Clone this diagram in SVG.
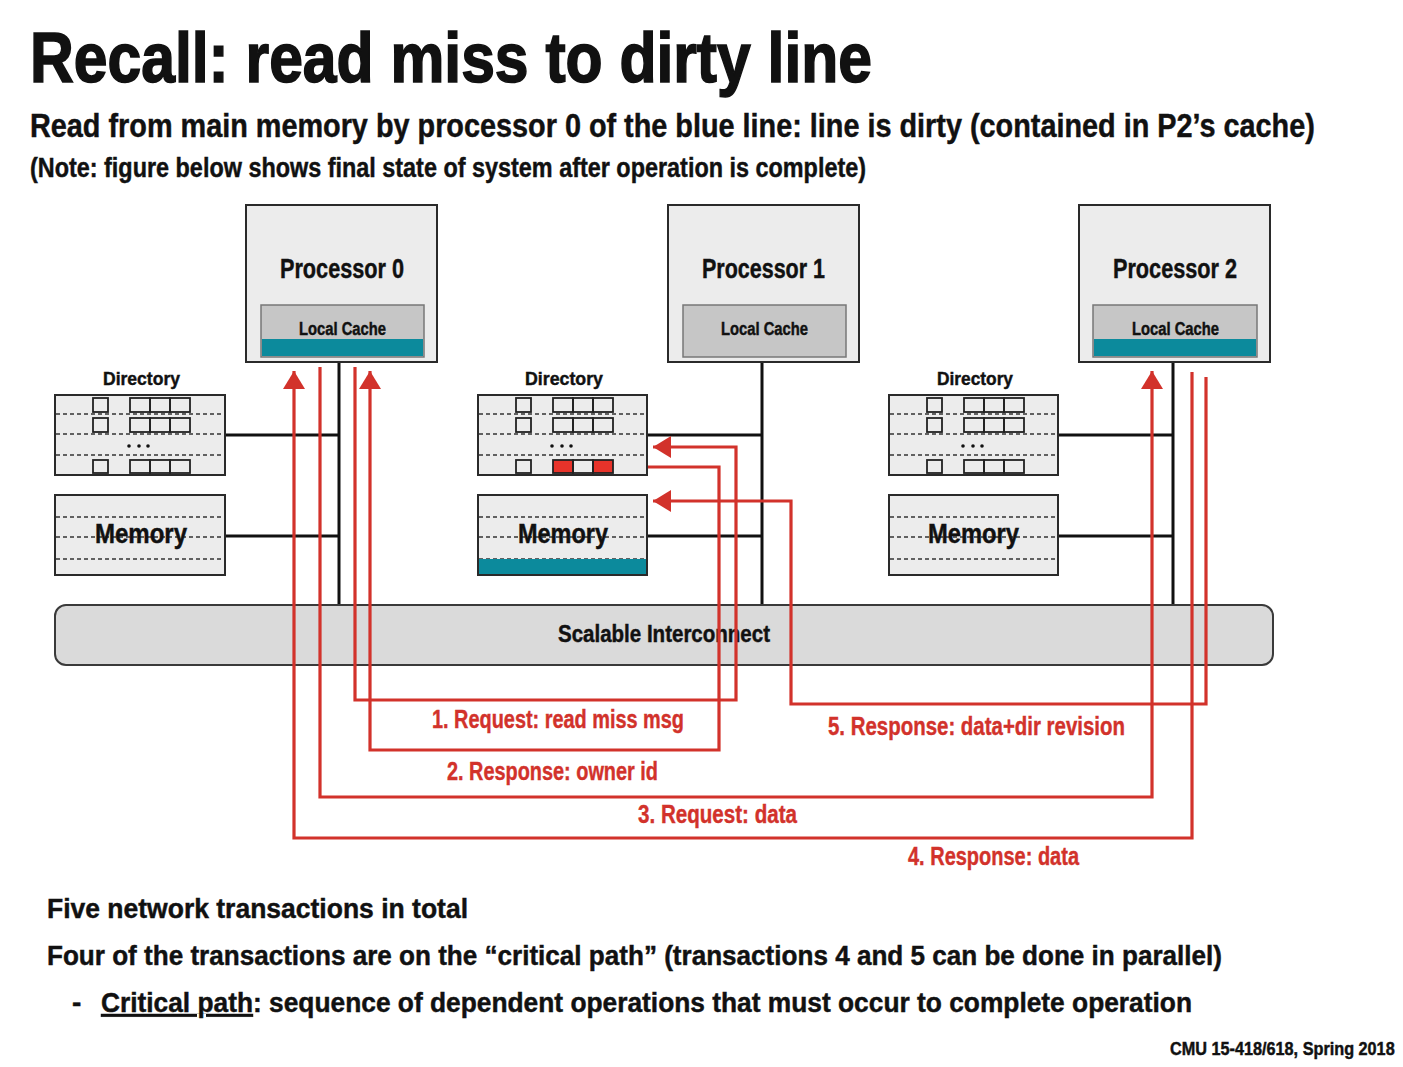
<svg xmlns="http://www.w3.org/2000/svg" width="1403" height="1067" viewBox="0 0 1403 1067">
<style>
text{font-family:"Liberation Sans",Arial,sans-serif;font-weight:bold;fill:#111;stroke:#111;stroke-width:0.45}
.t{stroke-width:1.6}
.box{fill:#ececec;stroke:#2a2a2a;stroke-width:2}
.cache{fill:#c6c6c6;stroke:#777;stroke-width:1.5}
.teal{fill:#0c8a9c}
.dash{stroke:#333;stroke-width:1.6;stroke-dasharray:4 3;fill:none}
.cell{fill:none;stroke:#222;stroke-width:1.8}
.bus{stroke:#111;stroke-width:3;fill:none}
.red{stroke:#d2322b;stroke-width:3.2;fill:none}
text.rt{fill:#d2322b;stroke:#d2322b;stroke-width:0.4}
</style>
<defs>
<marker id="ah" viewBox="0 0 18 22" markerWidth="18" markerHeight="22" refX="18" refY="11" orient="auto" markerUnits="userSpaceOnUse">
<path d="M0,0 L18,11 L0,22 z" fill="#d2322b"/>
</marker>
<g id="dirCells">
<rect class="cell" x="0" y="3" width="15" height="14"/>
<rect class="cell" x="0" y="23" width="15" height="14"/>
<rect class="cell" x="0" y="65" width="15" height="13"/>
<rect class="cell" x="37" y="3" width="20" height="14"/><rect class="cell" x="57" y="3" width="20" height="14"/><rect class="cell" x="77" y="3" width="20" height="14"/>
<rect class="cell" x="37" y="23" width="20" height="14"/><rect class="cell" x="57" y="23" width="20" height="14"/><rect class="cell" x="77" y="23" width="20" height="14"/>
<circle cx="36" cy="51" r="1.8" fill="#111"/><circle cx="46" cy="51" r="1.8" fill="#111"/><circle cx="55" cy="51" r="1.8" fill="#111"/>
</g>
</defs>
<rect width="1403" height="1067" fill="#fff"/>

<text class="t" x="30" y="82" font-size="70" textLength="842" lengthAdjust="spacingAndGlyphs">Recall: read miss to dirty line</text>
<text transform="translate(30,137) scale(0.8,1)" x="0" y="0" font-size="33" textLength="1606" lengthAdjust="spacingAndGlyphs">Read from main memory by processor 0 of the blue line: line is dirty (contained in P2’s cache)</text>
<text x="30" y="177" font-size="27" textLength="836" lengthAdjust="spacingAndGlyphs">(Note: figure below shows final state of system after operation is complete)</text>

<g id="bus-lines">
<path class="bus" d="M339,363 V605 M225,435 H339 M225,536 H339"/>
<path class="bus" d="M762,363 V605 M647,435 H762 M647,536 H762"/>
<path class="bus" d="M1173,363 V605 M1058,435 H1173 M1058,536 H1173"/>
</g>

<g id="processor0">
<rect class="box" x="246" y="205" width="191" height="157"/>
<text x="280" y="278" font-size="28" textLength="124" lengthAdjust="spacingAndGlyphs">Processor 0</text>
<rect class="cache" x="261" y="305" width="163" height="52"/>
<rect class="teal" x="262" y="339" width="161" height="17"/>
<text x="299" y="335" font-size="18" textLength="87" lengthAdjust="spacingAndGlyphs">Local Cache</text>
</g>
<g id="processor1">
<rect class="box" x="668" y="205" width="191" height="157"/>
<text x="702" y="278" font-size="28" textLength="123" lengthAdjust="spacingAndGlyphs">Processor 1</text>
<rect class="cache" x="683" y="305" width="163" height="52"/>
<text x="721" y="335" font-size="18" textLength="87" lengthAdjust="spacingAndGlyphs">Local Cache</text>
</g>
<g id="processor2">
<rect class="box" x="1079" y="205" width="191" height="157"/>
<text x="1113" y="278" font-size="28" textLength="124" lengthAdjust="spacingAndGlyphs">Processor 2</text>
<rect class="cache" x="1093" y="305" width="164" height="52"/>
<rect class="teal" x="1094" y="339" width="162" height="17"/>
<text x="1132" y="335" font-size="18" textLength="87" lengthAdjust="spacingAndGlyphs">Local Cache</text>
</g>

<g id="directory0">
<text x="103" y="385" font-size="19" textLength="77" lengthAdjust="spacingAndGlyphs">Directory</text>
<rect class="box" x="55" y="395" width="170" height="80"/>
<path class="dash" d="M56,414 H224 M56,434 H224 M56,455 H224"/>
<use href="#dirCells" x="93" y="395"/>
<rect class="cell" x="130" y="460" width="20" height="13"/><rect class="cell" x="150" y="460" width="20" height="13"/><rect class="cell" x="170" y="460" width="20" height="13"/>
</g>
<g id="directory1">
<text x="525" y="385" font-size="19" textLength="78" lengthAdjust="spacingAndGlyphs">Directory</text>
<rect class="box" x="478" y="395" width="169" height="80"/>
<path class="dash" d="M479,414 H646 M479,434 H646 M479,455 H646"/>
<use href="#dirCells" x="516" y="395"/>
<rect x="553" y="460" width="20" height="13" fill="#e8332a"/><rect x="593" y="460" width="20" height="13" fill="#e8332a"/>
<rect class="cell" x="553" y="460" width="20" height="13"/><rect class="cell" x="573" y="460" width="20" height="13"/><rect class="cell" x="593" y="460" width="20" height="13"/>
</g>
<g id="directory2">
<text x="937" y="385" font-size="19" textLength="76" lengthAdjust="spacingAndGlyphs">Directory</text>
<rect class="box" x="889" y="395" width="169" height="80"/>
<path class="dash" d="M890,414 H1057 M890,434 H1057 M890,455 H1057"/>
<use href="#dirCells" x="927" y="395"/>
<rect class="cell" x="964" y="460" width="20" height="13"/><rect class="cell" x="984" y="460" width="20" height="13"/><rect class="cell" x="1004" y="460" width="20" height="13"/>
</g>

<g id="memory0">
<rect class="box" x="55" y="495" width="170" height="80"/>
<path class="dash" d="M56,517 H224 M56,537 H224 M56,559 H224"/>
<text x="95" y="543" font-size="27" textLength="92" lengthAdjust="spacingAndGlyphs">Memory</text>
</g>
<g id="memory1">
<rect class="box" x="478" y="495" width="169" height="80"/>
<path class="dash" d="M479,517 H646 M479,537 H646 M479,559 H646"/>
<rect class="teal" x="479" y="559" width="167" height="15"/>
<text x="518" y="543" font-size="27" textLength="90" lengthAdjust="spacingAndGlyphs">Memory</text>
</g>
<g id="memory2">
<rect class="box" x="889" y="495" width="169" height="80"/>
<path class="dash" d="M890,517 H1057 M890,537 H1057 M890,559 H1057"/>
<text x="928" y="543" font-size="27" textLength="91" lengthAdjust="spacingAndGlyphs">Memory</text>
</g>

<g id="interconnect">
<rect x="55" y="605" width="1218" height="60" rx="11" fill="#dadada" stroke="#3a3a3a" stroke-width="2"/>
<text x="558" y="642" font-size="23" textLength="212" lengthAdjust="spacingAndGlyphs">Scalable Interconnect</text>
</g>

<g id="connectors">
<path class="red" d="M355,367 V700 H736 V447 H653" marker-end="url(#ah)"/>
<path class="red" d="M648,467 H719 V750 H370 V371" marker-end="url(#ah)"/>
<path class="red" d="M320,367 V797 H1152 V371" marker-end="url(#ah)"/>
<path class="red" d="M1192,372 V838 H294 V371" marker-end="url(#ah)"/>
<path class="red" d="M1206,377 V704 H791 V501 H653" marker-end="url(#ah)"/>
<text class="rt" x="432" y="728" font-size="25" textLength="252" lengthAdjust="spacingAndGlyphs">1. Request: read miss msg</text>
<text class="rt" x="447" y="780" font-size="25" textLength="211" lengthAdjust="spacingAndGlyphs">2. Response: owner id</text>
<text class="rt" x="638" y="823" font-size="25" textLength="159" lengthAdjust="spacingAndGlyphs">3. Request: data</text>
<text class="rt" x="908" y="865" font-size="25" textLength="171" lengthAdjust="spacingAndGlyphs">4. Response: data</text>
<text class="rt" x="828" y="735" font-size="25" textLength="297" lengthAdjust="spacingAndGlyphs">5. Response: data+dir revision</text>
</g>

<text x="47" y="918" font-size="28" textLength="421" lengthAdjust="spacingAndGlyphs">Five network transactions in total</text>
<text x="47" y="965" font-size="28" textLength="1175" lengthAdjust="spacingAndGlyphs">Four of the transactions are on the “critical path” (transactions 4 and 5 can be done in parallel)</text>
<text x="72" y="1012" font-size="28">-</text>
<text x="101" y="1012" font-size="28" textLength="152" lengthAdjust="spacingAndGlyphs" text-decoration="underline">Critical path</text>
<text x="253" y="1012" font-size="28" textLength="939" lengthAdjust="spacingAndGlyphs">: sequence of dependent operations that must occur to complete operation</text>
<text transform="translate(1170,1055) scale(0.82,1)" x="0" y="0" font-size="18" textLength="274" lengthAdjust="spacingAndGlyphs">CMU 15-418/618, Spring 2018</text>
</svg>
